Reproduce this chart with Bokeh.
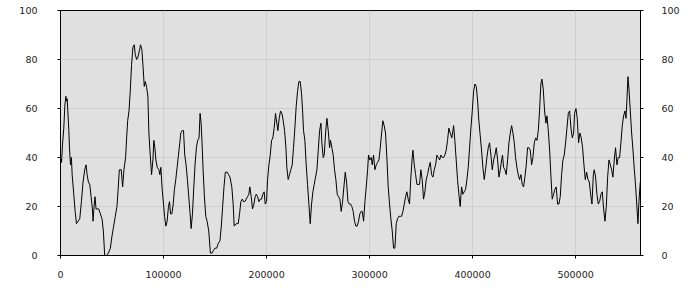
from bokeh.plotting import figure
from bokeh.models import LinearAxis, Range1d, FixedTicker
from bokeh.embed import file_html
from bokeh.resources import INLINE

# x positions (thousands) and values
x_k = [0.0, 1.0, 1.9, 3.2, 4.2, 5.2, 5.8, 6.5, 7.1, 8.1, 8.7, 9.7, 10.6, 11.3, 12.9, 14.2, 15.5, 17.1, 18.7, 20.3,
       21.9, 23.5, 24.8, 25.8, 27.1, 28.4, 29.7, 31.0, 31.6, 32.6, 33.5, 34.5, 37.1, 38.7, 40.3, 41.6, 42.9, 44.5, 46.5, 48.4,
       50.0, 51.6, 53.2, 54.8, 55.8, 57.1, 59.0, 60.3, 61.6, 63.2, 64.2, 65.2, 66.5, 67.7, 69.0, 70.3, 71.6, 72.6, 73.9, 75.2,
       76.8, 77.7, 79.0, 80.0, 81.3, 82.3, 83.5, 84.8, 85.8, 87.1, 88.4, 89.7, 90.6, 91.6, 92.6, 93.9, 95.5, 96.5, 97.4, 98.7,
       100.0, 101.0, 102.3, 103.5, 104.8, 105.8, 106.8, 108.1, 109.4, 110.6, 111.9, 113.2, 114.5, 115.8, 116.8, 118.1, 119.4, 120.6, 121.9, 123.2,
       124.5, 125.8, 126.8, 128.1, 129.4, 130.6, 131.9, 133.2, 134.5, 135.5, 136.5, 137.4, 138.4, 139.7, 141.0, 142.3, 143.9, 145.5, 147.1, 148.4,
       150.0, 151.6, 153.2, 154.8, 156.1, 157.4, 158.7, 160.0, 161.9, 163.2, 164.5, 166.3, 167.6, 168.6, 170.6, 172.5, 173.8, 175.1, 176.4, 177.7,
       179.0, 180.3, 181.6, 182.8, 183.8, 185.1, 186.4, 187.7, 189.0, 190.0, 191.3, 192.6, 193.9, 195.1, 196.4, 197.7, 198.7, 200.0, 201.0, 202.3,
       203.6, 204.9, 206.1, 207.4, 208.7, 210.0, 211.0, 212.3, 213.6, 214.9, 216.2, 217.5, 218.8, 219.7, 221.0, 222.3, 223.6, 224.9, 226.2, 227.5,
       228.8, 230.1, 231.4, 232.7, 234.0, 235.0, 235.9, 237.2, 238.5, 239.8, 241.1, 242.4, 243.7, 245.0, 246.3, 247.6, 248.9, 250.2, 251.5, 252.8,
       253.7, 255.0, 256.0, 257.3, 258.6, 259.9, 261.2, 262.1, 263.4, 264.7, 266.0, 267.3, 268.6, 269.9, 271.2, 272.5, 273.8, 275.1, 276.4, 277.7,
       279.0, 280.3, 281.6, 282.8, 284.1, 285.4, 286.7, 288.0, 289.3, 290.6, 291.9, 292.9, 294.2, 295.5, 296.8, 298.1, 299.0, 300.3, 301.6, 302.6,
       303.9, 305.2, 306.5, 307.8, 309.1, 310.4, 311.7, 312.9, 314.2, 315.5, 316.8, 318.1, 319.4, 320.7, 322.0, 323.3, 324.6, 325.9, 327.2, 328.5,
       329.8, 331.1, 332.4, 333.7, 335.0, 336.2, 337.5, 338.8, 340.1, 341.4, 342.1, 343.4, 344.7, 346.0, 347.2, 348.5, 349.8, 351.1, 352.4, 353.7,
       355.0, 356.3, 357.6, 358.9, 360.2, 361.5, 362.8, 364.1, 365.4, 366.7, 368.0, 369.3, 370.6, 371.8, 373.1, 374.4, 375.7, 377.0, 378.3, 379.9,
       381.6, 382.8, 384.1, 385.4, 386.7, 388.0, 389.3, 390.6, 391.9, 393.2, 394.5, 395.8, 397.1, 398.4, 399.7, 401.0, 402.3, 403.6, 404.9, 406.1,
       407.4, 408.7, 410.0, 411.3, 412.6, 413.9, 415.2, 416.5, 417.8, 419.1, 420.4, 421.7, 423.0, 424.3, 425.6, 426.9, 428.2, 429.1, 430.1, 431.4,
       432.7, 434.0, 435.3, 436.6, 437.9, 439.2, 440.5, 441.7, 443.0, 444.3, 445.6, 446.9, 448.2, 449.5, 450.8, 452.1, 453.4, 454.7, 456.0, 457.3,
       458.6, 459.9, 461.2, 462.5, 463.8, 465.0, 466.3, 467.3, 468.6, 469.9, 471.2, 472.2, 473.5, 474.8, 476.1, 477.3, 478.6, 479.9, 481.2, 482.5,
       483.8, 485.1, 486.4, 487.7, 489.0, 490.3, 491.6, 492.9, 494.2, 495.5, 496.8, 498.1, 499.0, 500.3, 501.6, 502.9, 504.2, 505.5, 506.8, 508.1,
       509.4, 510.7, 512.0, 513.3, 514.6, 515.9, 517.2, 518.1, 519.4, 520.7, 522.0, 523.3, 524.6, 525.9, 527.2, 528.5, 529.8, 531.1, 532.4, 533.7,
       535.0, 536.2, 537.5, 538.8, 540.1, 541.4, 542.7, 544.0, 545.3, 546.6, 547.9, 548.9, 549.8, 550.8, 551.8, 553.1, 554.4, 555.7, 557.0, 558.3,
       559.5, 560.5, 561.5, 562.8]

values = [40, 38, 45, 52, 61, 65, 63, 64, 59, 51, 44, 37, 40, 33, 25, 18, 13, 14, 15, 22,
          30, 35, 37, 33, 30, 29, 24, 19, 14, 20, 24, 19, 19, 17, 15, 10, 0, 0, 1, 3,
          8, 12, 16, 20, 26, 35, 35, 28, 35, 40, 48, 55, 59, 67, 78, 85, 86, 82, 80, 81,
          84, 86, 84, 78, 69, 71, 69, 65, 50, 41, 33, 39, 47, 44, 39, 36, 35, 33, 36, 27,
          21, 16, 12, 14, 20, 22, 17, 17, 21, 27, 31, 36, 41, 46, 50, 51, 51, 41, 37, 31,
          24, 17, 11, 17, 28, 37, 44, 47, 48, 58, 54, 46, 35, 24, 16, 14, 10, 1, 1, 2,
          3, 3, 5, 6, 12, 20, 28, 34, 34, 33, 32, 28, 21, 12, 13, 13, 17, 22, 23, 22,
          22, 23, 24, 25, 28, 24, 19, 21, 24, 25, 24, 22, 23, 23, 25, 26, 21, 22, 31, 37,
          41, 47, 48, 52, 58, 54, 51, 56, 59, 58, 55, 51, 44, 36, 31, 33, 35, 37, 44, 52,
          61, 67, 71, 71, 66, 59, 51, 47, 37, 29, 21, 13, 21, 26, 29, 32, 35, 43, 51, 54,
          46, 40, 41, 50, 56, 51, 44, 47, 44, 41, 35, 31, 25, 24, 23, 18, 22, 28, 34, 30,
          22, 21, 21, 20, 18, 14, 12, 12, 14, 17, 18, 18, 14, 22, 28, 35, 41, 39, 40, 37,
          41, 35, 37, 38, 39, 44, 50, 55, 53, 50, 40, 28, 21, 15, 10, 3, 3, 13, 15, 16,
          16, 16, 18, 21, 24, 26, 23, 21, 32, 40, 43, 37, 33, 29, 29, 29, 35, 31, 23, 26,
          31, 33, 36, 38, 33, 32, 35, 37, 41, 40, 39, 41, 40, 40, 41, 43, 47, 52, 50, 48,
          53, 47, 39, 31, 25, 20, 28, 25, 26, 27, 31, 36, 44, 52, 59, 67, 70, 69, 63, 55,
          49, 43, 36, 31, 35, 40, 44, 46, 41, 35, 39, 41, 44, 39, 32, 35, 39, 41, 36, 35,
          33, 39, 46, 50, 53, 50, 46, 40, 36, 33, 31, 33, 29, 28, 32, 37, 44, 44, 43, 37,
          40, 46, 48, 47, 51, 59, 70, 72, 68, 59, 54, 57, 51, 43, 32, 23, 25, 27, 28, 21,
          21, 24, 33, 39, 41, 46, 52, 58, 59, 52, 48, 50, 58, 60, 56, 46, 50, 48, 44, 37,
          31, 34, 31, 30, 25, 21, 33, 35, 32, 25, 21, 22, 25, 26, 19, 14, 20, 32, 39, 37,
          35, 32, 39, 44, 37, 40, 40, 46, 53, 57, 59, 56, 63, 73, 68, 59, 50, 43, 35, 28,
          20, 13, 22, 30]

x_ticks = [0, 100000, 200000, 300000, 400000, 500000]
y_ticks = [0, 20, 40, 60, 80, 100]

xs = [v * 1000 for v in x_k]

FONT = "DejaVu Sans"

p = figure(width=700, height=300, output_backend="svg", toolbar_location=None,
           x_range=Range1d(0, 563000), y_range=Range1d(0, 100),
           y_axis_location=None, x_axis_location=None,
           min_border_left=60, min_border_right=60, min_border_top=10, min_border_bottom=45)
p.background_fill_color = "#e0e0e0"
p.border_fill_color = "white"
p.outline_line_color = "black"
p.outline_line_width = 1

p.line(xs, values, line_color="black", line_width=1)

def style(ax, standoff):
    ax.major_label_text_font = FONT
    ax.major_label_text_font_size = "9.5px"
    ax.major_label_text_color = "#222222"
    ax.major_tick_out = 3
    ax.major_tick_in = 0
    ax.minor_tick_out = 0
    ax.minor_tick_in = 0
    ax.axis_line_color = "black"
    ax.major_tick_line_color = "black"
    ax.major_label_standoff = standoff

xax = LinearAxis(ticker=FixedTicker(ticks=x_ticks))
style(xax, 12)
xax.major_label_overrides = {t: str(t) for t in x_ticks}
p.add_layout(xax, "below")

lax = LinearAxis(ticker=FixedTicker(ticks=y_ticks))
style(lax, 20)
p.add_layout(lax, "left")

rax = LinearAxis(ticker=FixedTicker(ticks=y_ticks))
style(rax, 18)
p.add_layout(rax, "right")

p.xgrid.ticker = FixedTicker(ticks=x_ticks)
p.ygrid.ticker = FixedTicker(ticks=y_ticks)
p.grid.grid_line_color = "#cfcfcf"
p.grid.grid_line_width = 1

open("out.html", "w").write(file_html(p, INLINE))
